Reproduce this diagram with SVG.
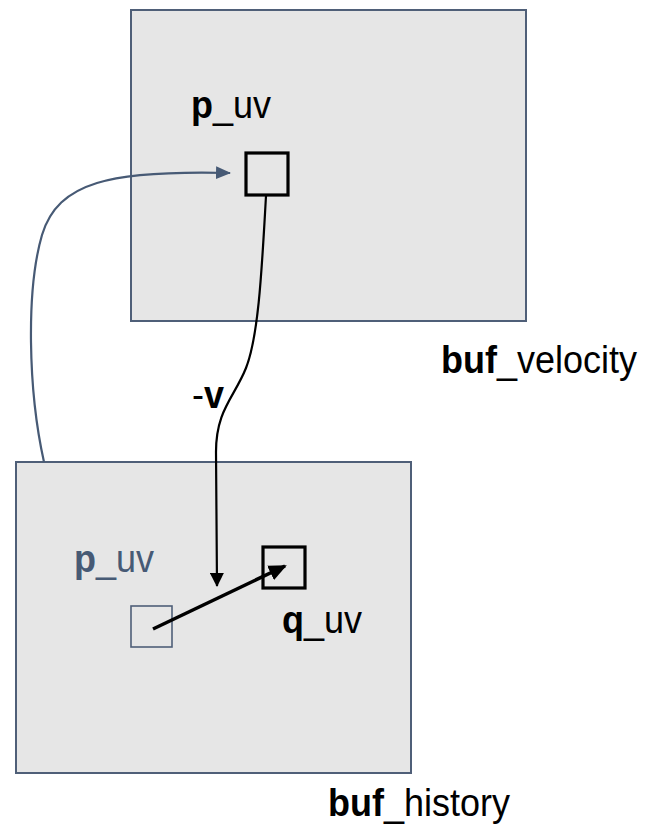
<svg xmlns="http://www.w3.org/2000/svg" width="645" height="824" viewBox="0 0 645 824">
  <style>
    .buf { fill: #e6e6e6; stroke: #4f5f78; stroke-width: 2; }
    .lbl { font-family: "Liberation Sans", Arial, sans-serif; font-size: 36px; fill: #000; }
    .lbl tspan.b { font-weight: bold; }
    .slate { fill: #475a75; }
    .cell { fill: none; stroke: #000; stroke-width: 3.2; }
    .ghost { fill: none; stroke: #4f5f78; stroke-width: 1.6; }
    .wire { fill: none; stroke: #000; stroke-width: 2.2; }
    .back { fill: none; stroke: #475a75; stroke-width: 2.2; }
    .motion { fill: none; stroke: #000; stroke-width: 3.5; }
  </style>
  <defs>
    <marker id="headBlack" viewBox="0 0 14 14" refX="13" refY="7" markerWidth="14" markerHeight="14" markerUnits="userSpaceOnUse" orient="auto">
      <path d="M0,0 L14,7 L0,14 z" fill="#000"/>
    </marker>
    <marker id="headBlackThick" viewBox="0 0 18 16" refX="16" refY="8" markerWidth="18" markerHeight="16" markerUnits="userSpaceOnUse" orient="auto">
      <path d="M0,0 L18,8 L0,16 z" fill="#000"/>
    </marker>
    <marker id="headSlate" viewBox="0 0 15 13" refX="14" refY="6.5" markerWidth="15" markerHeight="13" markerUnits="userSpaceOnUse" orient="auto">
      <path d="M0,0 L15,6.5 L0,13 z" fill="#475a75"/>
    </marker>
  </defs>

  <!-- velocity buffer -->
  <g id="buf_velocity">
    <rect class="buf" x="131" y="10" width="395" height="311"/>
    <text class="lbl" transform="translate(441 373) scale(1 1.08)"><tspan class="b">buf</tspan>_velocity</text>
  </g>

  <!-- history buffer -->
  <g id="buf_history">
    <rect class="buf" x="16" y="462" width="395" height="311"/>
    <text class="lbl" transform="translate(328 816) scale(1 1.08)"><tspan class="b">buf</tspan>_history</text>
  </g>

  <!-- pixel in the velocity buffer -->
  <g id="p_uv_velocity">
    <rect class="cell" x="246" y="153" width="42" height="42"/>
    <text class="lbl" transform="translate(191 118) scale(1 1.08)"><tspan class="b">p</tspan>_uv</text>
  </g>

  <!-- same pixel position in the history buffer -->
  <g id="p_uv_history">
    <rect class="ghost" x="131" y="606" width="41" height="41"/>
    <text class="lbl slate" transform="translate(74 572) scale(1 1.08)"><tspan class="b">p</tspan>_uv</text>
  </g>

  <!-- reprojected pixel -->
  <g id="q_uv">
    <rect class="cell" x="263" y="547" width="42" height="41"/>
    <text class="lbl" transform="translate(282 633) scale(1 1.08)"><tspan class="b">q</tspan>_uv</text>
  </g>

  <!-- connectors -->
  <g id="connectors">
    <path class="back" d="M44,462 C28,390 26,290 42,235 C58,182 110,170 230,173" marker-end="url(#headSlate)"/>
    <path class="wire" d="M266,196 C262,265 259,335 246,368 C234,398 216,410 216,452 L217,586" marker-end="url(#headBlack)"/>
    <path class="motion" d="M153,629 L285,566" marker-end="url(#headBlackThick)"/>
    <text class="lbl" transform="translate(192 408) scale(1 1.08)">-<tspan class="b">v</tspan></text>
  </g>
</svg>
